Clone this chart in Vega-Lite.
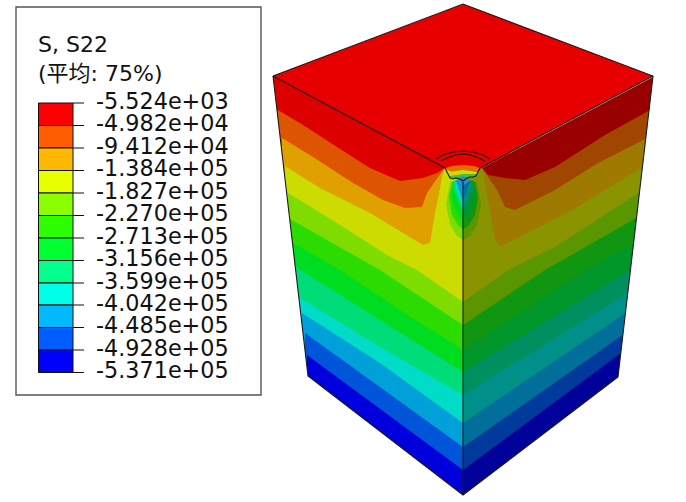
{"$schema":"https://vega.github.io/schema/vega-lite/v6.json","width":686,"height":502,"padding":0,"autosize":{"type":"fit","contains":"padding"},"background":"white","config":{"view":{"stroke":null}},
"datasets":{
"shapes":[
{"s":"a00","x":273,"y":76,"y2":502},{"s":"a00","x":445,"y":168,"y2":502},{"s":"a00","x":463,"y":178,"y2":502},
{"s":"a01","x":278,"y":110,"y2":502},{"s":"a01","x":303,"y":125,"y2":502},{"s":"a01","x":337,"y":147,"y2":502},{"s":"a01","x":370,"y":168,"y2":502},{"s":"a01","x":400,"y":181,"y2":502},{"s":"a01","x":423,"y":178,"y2":502},{"s":"a01","x":437,"y":173,"y2":502},{"s":"a01","x":445,"y":168,"y2":502},{"s":"a01","x":463,"y":178,"y2":502},
{"s":"a02","x":282,"y":138,"y2":502},{"s":"a02","x":313,"y":157,"y2":502},{"s":"a02","x":353,"y":183,"y2":502},{"s":"a02","x":383,"y":200,"y2":502},{"s":"a02","x":405,"y":208,"y2":502},{"s":"a02","x":422,"y":207,"y2":502},{"s":"a02","x":427,"y":193,"y2":502},{"s":"a02","x":438,"y":177,"y2":502},{"s":"a02","x":445,"y":168,"y2":502},{"s":"a02","x":463,"y":178,"y2":502},
{"s":"a03","x":285,"y":166,"y2":502},{"s":"a03","x":320,"y":188,"y2":502},{"s":"a03","x":370,"y":213,"y2":502},{"s":"a03","x":403,"y":233,"y2":502},{"s":"a03","x":423,"y":245,"y2":502},{"s":"a03","x":430,"y":243,"y2":502},{"s":"a03","x":435,"y":213,"y2":502},{"s":"a03","x":443,"y":173,"y2":502},{"s":"a03","x":445,"y":168,"y2":502},{"s":"a03","x":463,"y":178,"y2":502},
{"s":"a04","x":288,"y":193,"y2":502},{"s":"a04","x":337,"y":223,"y2":502},{"s":"a04","x":387,"y":255,"y2":502},{"s":"a04","x":417,"y":270,"y2":502},{"s":"a04","x":463,"y":302,"y2":502},
{"s":"a05","x":290,"y":219,"y2":502},{"s":"a05","x":380,"y":270,"y2":502},{"s":"a05","x":463,"y":325,"y2":502},
{"s":"a06","x":293,"y":243,"y2":502},{"s":"a06","x":340,"y":270,"y2":502},{"s":"a06","x":400,"y":310,"y2":502},{"s":"a06","x":463,"y":350,"y2":502},
{"s":"a07","x":296,"y":267,"y2":502},{"s":"a07","x":380,"y":320,"y2":502},{"s":"a07","x":463,"y":372,"y2":502},
{"s":"a08","x":300,"y":298,"y2":502},{"s":"a08","x":380,"y":347,"y2":502},{"s":"a08","x":463,"y":395,"y2":502},
{"s":"a09","x":302,"y":313,"y2":502},{"s":"a09","x":380,"y":363,"y2":502},{"s":"a09","x":463,"y":423,"y2":502},
{"s":"a10","x":305,"y":333,"y2":502},{"s":"a10","x":463,"y":447,"y2":502},
{"s":"a11","x":307,"y":355,"y2":502},{"s":"a11","x":463,"y":470,"y2":502},
{"s":"b00","x":463,"y":178,"y2":502},{"s":"b00","x":482,"y":168,"y2":502},{"s":"b00","x":653,"y":77,"y2":502},
{"s":"b01","x":463,"y":178,"y2":502},{"s":"b01","x":482,"y":168,"y2":502},{"s":"b01","x":488,"y":175,"y2":502},{"s":"b01","x":505,"y":178,"y2":502},{"s":"b01","x":525,"y":180,"y2":502},{"s":"b01","x":555,"y":167,"y2":502},{"s":"b01","x":605,"y":135,"y2":502},{"s":"b01","x":650,"y":110,"y2":502},
{"s":"b02","x":463,"y":178,"y2":502},{"s":"b02","x":482,"y":168,"y2":502},{"s":"b02","x":497,"y":190,"y2":502},{"s":"b02","x":505,"y":207,"y2":502},{"s":"b02","x":515,"y":210,"y2":502},{"s":"b02","x":555,"y":190,"y2":502},{"s":"b02","x":598,"y":163,"y2":502},{"s":"b02","x":647,"y":138,"y2":502},
{"s":"b03","x":463,"y":178,"y2":502},{"s":"b03","x":482,"y":168,"y2":502},{"s":"b03","x":490,"y":210,"y2":502},{"s":"b03","x":495,"y":240,"y2":502},{"s":"b03","x":500,"y":247,"y2":502},{"s":"b03","x":572,"y":210,"y2":502},{"s":"b03","x":643,"y":167,"y2":502},
{"s":"b04","x":463,"y":302,"y2":502},{"s":"b04","x":508,"y":270,"y2":502},{"s":"b04","x":555,"y":247,"y2":502},{"s":"b04","x":640,"y":192,"y2":502},
{"s":"b05","x":463,"y":325,"y2":502},{"s":"b05","x":545,"y":270,"y2":502},{"s":"b05","x":638,"y":217,"y2":502},
{"s":"b06","x":463,"y":350,"y2":502},{"s":"b06","x":585,"y":270,"y2":502},{"s":"b06","x":635,"y":243,"y2":502},
{"s":"b07","x":463,"y":372,"y2":502},{"s":"b07","x":625,"y":273,"y2":502},{"s":"b07","x":632,"y":267,"y2":502},
{"s":"b08","x":463,"y":395,"y2":502},{"s":"b08","x":630,"y":292,"y2":502},
{"s":"b09","x":463,"y":423,"y2":502},{"s":"b09","x":627,"y":312,"y2":502},
{"s":"b10","x":463,"y":447,"y2":502},{"s":"b10","x":624,"y":334,"y2":502},
{"s":"b11","x":463,"y":470,"y2":502},{"s":"b11","x":621,"y":353,"y2":502},
{"s":"c04","x":446,"y":205,"y2":205},{"s":"c04","x":450,"y":182,"y2":225},{"s":"c04","x":457,"y":180,"y2":236},{"s":"c04","x":463,"y":178,"y2":240},
{"s":"c05","x":449,"y":197,"y2":197},{"s":"c05","x":452,"y":182,"y2":215},{"s":"c05","x":458,"y":180,"y2":225},{"s":"c05","x":463,"y":178,"y2":229},
{"s":"c06","x":451,"y":192,"y2":192},{"s":"c06","x":454,"y":182,"y2":208},{"s":"c06","x":463,"y":178,"y2":221},
{"s":"c07","x":453,"y":187,"y2":187},{"s":"c07","x":463,"y":178,"y2":213},
{"s":"c08","x":454,"y":183,"y2":183},{"s":"c08","x":463,"y":178,"y2":208},
{"s":"c09","x":456,"y":181,"y2":181},{"s":"c09","x":463,"y":178,"y2":202},
{"s":"c10","x":460,"y":181,"y2":181},{"s":"c10","x":463,"y":178,"y2":188},
{"s":"d04","x":463,"y":178,"y2":240},{"s":"d04","x":470,"y":180,"y2":236},{"s":"d04","x":477,"y":182,"y2":225},{"s":"d04","x":481,"y":205,"y2":205},
{"s":"d05","x":463,"y":178,"y2":229},{"s":"d05","x":469,"y":180,"y2":225},{"s":"d05","x":475,"y":182,"y2":215},{"s":"d05","x":478,"y":197,"y2":197},
{"s":"d06","x":463,"y":178,"y2":221},{"s":"d06","x":472,"y":182,"y2":208},{"s":"d06","x":476,"y":192,"y2":192},
{"s":"d07","x":463,"y":178,"y2":213},{"s":"d07","x":474,"y":187,"y2":187},
{"s":"d08","x":463,"y":178,"y2":208},{"s":"d08","x":472,"y":183,"y2":183},
{"s":"d09","x":463,"y":178,"y2":202},{"s":"d09","x":470,"y":181,"y2":181},
{"s":"d10","x":463,"y":178,"y2":188},{"s":"d10","x":466,"y":181,"y2":181},
{"s":"e0","x":273,"y":76,"y2":502},{"s":"e0","x":308,"y":376,"y2":502},{"s":"e0","x":463,"y":495,"y2":502},{"s":"e0","x":618,"y":377,"y2":502},{"s":"e0","x":653,"y":76,"y2":502},
{"s":"f0","x":273,"y":76,"y2":76},{"s":"f0","x":445,"y":11,"y2":168},{"s":"f0","x":463,"y":4,"y2":176},{"s":"f0","x":482,"y":11,"y2":168},{"s":"f0","x":653,"y":76,"y2":76},
{"s":"g1","x":446,"y":168,"y2":169},{"s":"g1","x":452,"y":166,"y2":172},{"s":"g1","x":463,"y":165,"y2":173},{"s":"g1","x":474,"y":166,"y2":172},{"s":"g1","x":480,"y":168,"y2":169},
{"s":"g2","x":449,"y":172,"y2":175},{"s":"g2","x":463,"y":170,"y2":177},{"s":"g2","x":477,"y":172,"y2":174},
{"s":"g3","x":450,"y":176,"y2":178},{"s":"g3","x":463,"y":174,"y2":180},{"s":"g3","x":476,"y":174,"y2":176},
{"s":"g4","x":455,"y":181,"y2":181},{"s":"g4","x":463,"y":176,"y2":186},{"s":"g4","x":471,"y":180,"y2":180}
],
"lines":[
{"p":"outline","o":1,"x":273,"y":76},{"p":"outline","o":2,"x":308,"y":376},{"p":"outline","o":3,"x":463,"y":495},{"p":"outline","o":4,"x":618,"y":377},{"p":"outline","o":5,"x":653,"y":76},{"p":"outline","o":6,"x":463,"y":4},{"p":"outline","o":7,"x":273,"y":76},
{"p":"edgeL","o":1,"x":273,"y":76},{"p":"edgeL","o":2,"x":445,"y":168},{"p":"edgeL","o":3,"x":450,"y":178},
{"p":"edgeR","o":1,"x":653,"y":76},{"p":"edgeR","o":2,"x":480,"y":168},{"p":"edgeR","o":3,"x":476,"y":176},
{"p":"edgeV","o":1,"x":463,"y":182},{"p":"edgeV","o":2,"x":463,"y":495},
{"p":"jag","o":1,"x":450,"y":178},{"p":"jag","o":2,"x":453,"y":179},{"p":"jag","o":3,"x":456,"y":178},{"p":"jag","o":4,"x":460,"y":179},{"p":"jag","o":5,"x":463,"y":181},{"p":"jag","o":6,"x":467,"y":178},{"p":"jag","o":7,"x":470,"y":177},{"p":"jag","o":8,"x":473,"y":177},{"p":"jag","o":9,"x":476,"y":176},
{"p":"arc1","o":1,"x":436,"y":159},{"p":"arc1","o":2,"x":443,"y":155},{"p":"arc1","o":3,"x":453,"y":152},{"p":"arc1","o":4,"x":463,"y":151},{"p":"arc1","o":5,"x":473,"y":152},{"p":"arc1","o":6,"x":483,"y":155},{"p":"arc1","o":7,"x":490,"y":159},
{"p":"arc2","o":1,"x":441,"y":161},{"p":"arc2","o":2,"x":447,"y":158},{"p":"arc2","o":3,"x":455,"y":155},{"p":"arc2","o":4,"x":463,"y":154},{"p":"arc2","o":5,"x":471,"y":155},{"p":"arc2","o":6,"x":479,"y":158},{"p":"arc2","o":7,"x":485,"y":161}
],
"swatches":[
{"v":"v00","x":38.5,"x2":73,"y":103,"y2":125.5},{"v":"v01","x":38.5,"x2":73,"y":125.5,"y2":148},{"v":"v02","x":38.5,"x2":73,"y":148,"y2":170.5},{"v":"v03","x":38.5,"x2":73,"y":170.5,"y2":193},{"v":"v04","x":38.5,"x2":73,"y":193,"y2":215.5},{"v":"v05","x":38.5,"x2":73,"y":215.5,"y2":238},{"v":"v06","x":38.5,"x2":73,"y":238,"y2":260.5},{"v":"v07","x":38.5,"x2":73,"y":260.5,"y2":283},{"v":"v08","x":38.5,"x2":73,"y":283,"y2":305},{"v":"v09","x":38.5,"x2":73,"y":305,"y2":327.5},{"v":"v10","x":38.5,"x2":73,"y":327.5,"y2":350},{"v":"v11","x":38.5,"x2":73,"y":350,"y2":372.5}
],
"labels":[
{"t":"-5.524e+03","x":96,"y":103},{"t":"-4.982e+04","x":96,"y":125.5},{"t":"-9.412e+04","x":96,"y":148},{"t":"-1.384e+05","x":96,"y":170.5},{"t":"-1.827e+05","x":96,"y":193},{"t":"-2.270e+05","x":96,"y":215.5},{"t":"-2.713e+05","x":96,"y":238},{"t":"-3.156e+05","x":96,"y":260.5},{"t":"-3.599e+05","x":96,"y":283},{"t":"-4.042e+05","x":96,"y":305},{"t":"-4.485e+05","x":96,"y":327.5},{"t":"-4.928e+05","x":96,"y":350},{"t":"-5.371e+05","x":96,"y":372.5}
]},
"layer":[
{"data":{"name":"shapes"},"mark":{"type":"area","orient":"vertical","interpolate":"linear"},"encoding":{
"x":{"field":"x","type":"quantitative","scale":{"domain":[0,686],"nice":false,"zero":false},"axis":null},
"y":{"field":"y","type":"quantitative","stack":null,"scale":{"domain":[502,0],"nice":false,"zero":false},"axis":null},
"y2":{"field":"y2"},
"color":{"field":"s","type":"nominal","legend":null,"scale":{
"domain":["a00","a01","a02","a03","a04","a05","a06","a07","a08","a09","a10","a11","b00","b01","b02","b03","b04","b05","b06","b07","b08","b09","b10","b11","c04","c05","c06","c07","c08","c09","c10","d04","d05","d06","d07","d08","d09","d10","e0","f0","g1","g2","g3","g4"],
"range":["#dd0000","#dd5500","#e0a000","#cddc00","#7fdc00","#2cdc00","#00dc20","#00dc78","#00dcc8","#00a0d8","#0055d8","#0000dc","#990000","#a04600","#9e7a00","#8a9400","#5a9600","#119611","#00962a","#009060","#00908a","#00709a","#003a9a","#00009a","#7fdc00","#2cdc00","#00dc20","#00dc78","#00dcc8","#00a0d8","#0055d8","#5a9600","#119611","#00962a","#009060","#00908a","#00709a","#003a9a","#ffffff","#e60000","#e07000","#d8d800","#40c040","#2090d0"]}}}},
{"data":{"name":"lines"},"mark":{"type":"line","color":"#1a1a1a","strokeWidth":1.1,"interpolate":"linear"},"encoding":{
"x":{"field":"x","type":"quantitative"},"y":{"field":"y","type":"quantitative"},"detail":{"field":"p"},"order":{"field":"o"}}},
{"data":{"values":[{"x":16,"x2":261,"y":7,"y2":395}]},"mark":{"type":"rect","fill":"white","stroke":"#555555","strokeWidth":1.4},"encoding":{
"x":{"field":"x","type":"quantitative"},"x2":{"field":"x2"},"y":{"field":"y","type":"quantitative"},"y2":{"field":"y2"}}},
{"data":{"name":"swatches"},"mark":{"type":"rect","stroke":"#111111","strokeWidth":1},"encoding":{
"x":{"field":"x","type":"quantitative"},"x2":{"field":"x2"},"y":{"field":"y","type":"quantitative"},"y2":{"field":"y2"},
"fill":{"field":"v","type":"nominal","legend":null,"scale":{"domain":["v00","v01","v02","v03","v04","v05","v06","v07","v08","v09","v10","v11"],"range":["#ff0000","#ff5d00","#ffb900","#e8ff00","#8bff00","#2eff00","#00ff2e","#00ff8b","#00ffe8","#00b9ff","#005dff","#0000ff"]}}}},
{"data":{"name":"labels"},"mark":{"type":"rule","color":"#111111","strokeWidth":1},"encoding":{
"x":{"datum":73},"x2":{"datum":84},"y":{"field":"y","type":"quantitative"}}},
{"data":{"name":"labels"},"mark":{"type":"text","align":"left","baseline":"middle","font":"DejaVu Sans","fontSize":22.3,"dy":-1.5,"color":"#111111"},"encoding":{
"x":{"field":"x","type":"quantitative"},"y":{"field":"y","type":"quantitative"},"text":{"field":"t"}}},
{"data":{"values":[{"t":"S, S22","x":38,"y":52},{"t":"(平均: 75%)","x":38,"y":81}]},"mark":{"type":"text","align":"left","baseline":"alphabetic","font":"DejaVu Sans, Noto Sans CJK SC","fontSize":22,"color":"#111111"},"encoding":{
"x":{"field":"x","type":"quantitative"},"y":{"field":"y","type":"quantitative"},"text":{"field":"t"}}}
]}
